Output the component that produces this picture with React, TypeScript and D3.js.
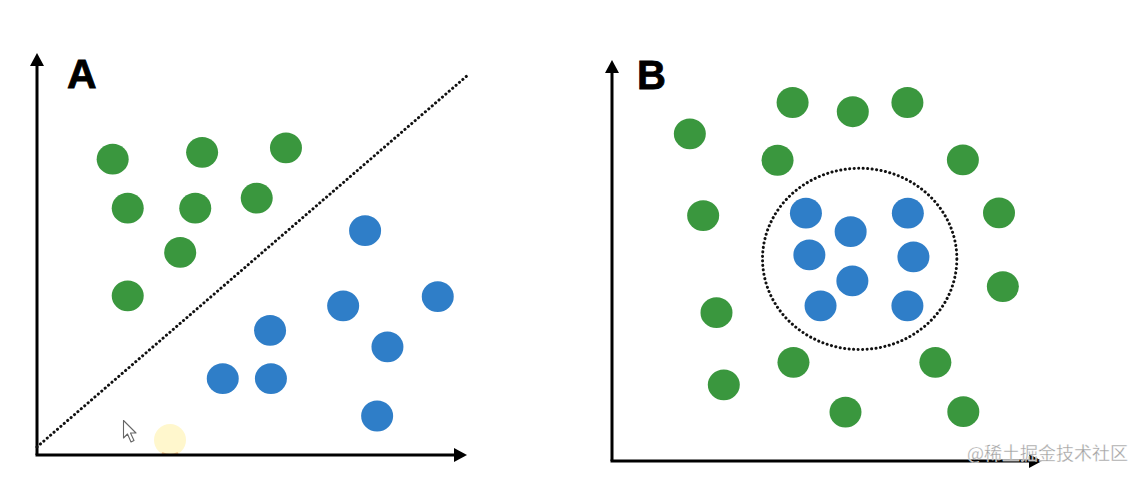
import React from "react"
import * as d3 from "d3"

// panel A: two linearly separable groups
const greenAx = [17.6, 38.4, 57.9, 21.1, 36.8, 51.1, 33.3, 21.1]
const greenAy = [73.6, 75.3, 76.4, 61.4, 61.4, 63.9, 50.4, 39.6]
const blueAx = [76.3, 93.2, 71.2, 54.2, 81.5, 43.2, 54.4, 79.1]
const blueAy = [55.8, 39.4, 37.1, 31.0, 26.9, 19.0, 19.0, 9.7]
const boundaryA = [[0, 2], [100.2, 94.5]]

// panel B: blue cluster surrounded by a green ring
const greenBx = [42.0, 56.0, 68.7, 18.1, 38.5, 81.6, 21.2, 90.0, 90.9, 24.3, 42.2, 75.2, 26.0, 54.3, 81.7]
const greenBy = [89.4, 87.1, 89.4, 81.6, 75.0, 75.1, 61.2, 61.9, 43.5, 37.0, 24.6, 24.6, 19.0, 12.2, 12.3]
const blueBx = [45.1, 55.5, 68.8, 45.9, 70.1, 55.9, 48.5, 68.7]
const blueBy = [61.8, 57.2, 61.8, 51.4, 50.9, 44.9, 38.7, 38.7]
const boundaryB = { cx: 57.6, cy: 50.4, r: 22.6 }

const GREEN = "#3a973e"
const BLUE = "#2f7ec8"

const panels = [
  { label: "A", x0: 37, x1: 467, y0: 455, y1: 53, labelX: 67, labelY: 88 },
  { label: "B", x0: 612, x1: 1042, y0: 461, y1: 60, labelX: 637, labelY: 89 },
]

function Axes({ x, y }: { x: d3.ScaleLinear<number, number>; y: d3.ScaleLinear<number, number> }) {
  const ox = x(0), oy = y(0)
  const tx = x(100), ty = y(100)
  return (
    <g>
      <line x1={ox} y1={oy} x2={ox} y2={ty + 10} stroke="#000" strokeWidth={3} />
      <line x1={ox - 1.5} y1={oy} x2={tx - 10} y2={oy} stroke="#000" strokeWidth={3} />
      <path d={`M${ox},${ty} L${ox - 7},${ty + 13} L${ox + 7},${ty + 13} Z`} fill="#000" />
      <path d={`M${tx},${oy} L${tx - 13},${oy - 7} L${tx - 13},${oy + 7} Z`} fill="#000" />
    </g>
  )
}

function Dots({ xs, ys, x, y, color }: any) {
  return (
    <g>
      {xs.map((v: number, i: number) => (
        <ellipse key={i} cx={x(v)} cy={y(ys[i])} rx={16} ry={15.4} fill={color} />
      ))}
    </g>
  )
}

export default function App() {
  const pA = panels[0], pB = panels[1]
  const xA = d3.scaleLinear().domain([0, 100]).range([pA.x0, pA.x1])
  const yA = d3.scaleLinear().domain([0, 100]).range([pA.y0, pA.y1])
  const xB = d3.scaleLinear().domain([0, 100]).range([pB.x0, pB.x1])
  const yB = d3.scaleLinear().domain([0, 100]).range([pB.y0, pB.y1])

  const line = d3.line<number[]>().x(d => xA(d[0])).y(d => yA(d[1]))
  const circ = d3.range(0, 361, 2).map(a => [
    boundaryB.cx + boundaryB.r * Math.cos((a * Math.PI) / 180),
    boundaryB.cy + boundaryB.r * Math.sin((a * Math.PI) / 180),
  ])
  const ring = d3.line<number[]>().x(d => xB(d[0])).y(d => yB(d[1]))

  const dotted = { stroke: "#111", strokeWidth: 3, strokeLinecap: "round" as const, strokeDasharray: "0.1 4.4", fill: "none" }

  return (
    <svg width={1144} height={484} style={{ position: "absolute", left: 0, top: 0, background: "#fff" }}
      fontFamily="Liberation Sans, Arial, sans-serif">
      <rect width={1144} height={484} fill="#fff" />
      {/* yellow click highlight from the recording */}
      <circle cx={170} cy={440} r={16} fill="#fff6c8" opacity={0.9} />
      <path d="M162,453 Q170,457 178,453" stroke="#f0a060" strokeWidth={2} fill="none" opacity={0.6} />

      <Axes x={xA} y={yA} />
      <path d={line(boundaryA) || ""} {...dotted} />
      <Dots xs={greenAx} ys={greenAy} x={xA} y={yA} color={GREEN} />
      <Dots xs={blueAx} ys={blueAy} x={xA} y={yA} color={BLUE} />
      <text x={pA.labelX} y={pA.labelY} fontSize={41} fontWeight="bold" fill="#000" stroke="#000" strokeWidth={0.8}>{pA.label}</text>

      {/* mouse cursor */}
      <path d="M123.5,420.5 L123.5,438 L127.5,434 L131,442 L134,440.5 L130.5,433 L136,433 Z"
        fill="#fff" stroke="#666" strokeWidth={1.1} strokeLinejoin="round" />

      <Axes x={xB} y={yB} />
      <path d={ring(circ) || ""} {...dotted} />
      <Dots xs={greenBx} ys={greenBy} x={xB} y={yB} color={GREEN} />
      <Dots xs={blueBx} ys={blueBy} x={xB} y={yB} color={BLUE} />
      <text x={pB.labelX} y={pB.labelY} fontSize={40} fontWeight="bold" fill="#000" stroke="#000" strokeWidth={0.8}>{pB.label}</text>

      <text x={967} y={460} fontSize={18} fill="#a0a0a0" stroke="#fff" strokeWidth={0.3}
        fontFamily="Noto Sans CJK SC, sans-serif">@稀土掘金技术社区</text>
    </svg>
  )
}
